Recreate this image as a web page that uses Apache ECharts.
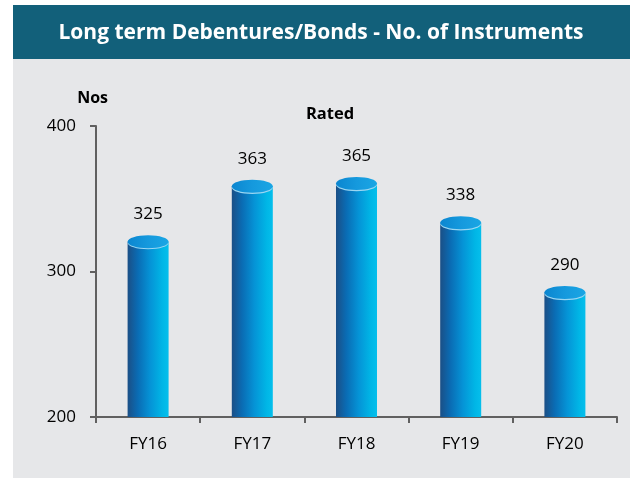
<!DOCTYPE html>
<html>
<head>
<meta charset="utf-8">
<script src="https://cdn.jsdelivr.net/npm/echarts@6/dist/echarts.min.js"></script>
<style>html,body{margin:0;padding:0;background:#fff}#c{width:630px;height:478px}</style>
</head>
<body>
<div id="c"></div>
<script>
var categories = ['FY16', 'FY17', 'FY18', 'FY19', 'FY20'];
var rated = [325, 363, 365, 338, 290];
var yTicks = [200, 300, 400];

var FONT = '"Open Sans", sans-serif';
var chart = echarts.init(document.getElementById('c'), null, {renderer: 'canvas'});

var bodyGrad = new echarts.graphic.LinearGradient(0, 0, 1, 0, [
  {offset: 0, color: '#1b4f86'},
  {offset: 0.25, color: '#0a6cb4'},
  {offset: 0.55, color: '#0593d6'},
  {offset: 0.85, color: '#00b6e6'},
  {offset: 1, color: '#05bfec'}
]);
var topGrad = new echarts.graphic.LinearGradient(0, 0, 1, 0, [
  {offset: 0, color: '#0b86d0'},
  {offset: 0.5, color: '#1599dd'},
  {offset: 1, color: '#1aa6e4'}
]);

chart.setOption({
  animation: false,
  graphic: [
    {type: 'rect', z: -10, shape: {x: 13, y: 5, width: 617, height: 54}, style: {fill: '#12607a'}},
    {type: 'rect', z: -10, shape: {x: 13, y: 59, width: 617, height: 419}, style: {fill: '#e6e7e9'}}
  ],
  title: [
    {text: 'Long term Debentures/Bonds - No. of Instruments', left: 316, top: 18, textAlign: 'center',
      textStyle: {color: '#ffffff', fontFamily: FONT, fontWeight: 'bold', fontSize: 21}},
    {text: 'Rated', left: 325, top: 101, textAlign: 'center',
      textStyle: {color: '#000000', fontFamily: FONT, fontWeight: 'bold', fontSize: 16.5}}
  ],
  grid: {left: 96, right: 13, top: 126, bottom: 61, containLabel: false},
  xAxis: {
    type: 'category', data: categories,
    axisLine: {lineStyle: {color: '#606060', width: 2}},
    axisTick: {show: true, alignWithLabel: false, length: 6, lineStyle: {color: '#606060', width: 2}},
    axisLabel: {color: '#000', fontFamily: FONT, fontSize: 17, margin: 19}
  },
  yAxis: {
    type: 'value', min: yTicks[0], max: yTicks[yTicks.length - 1], interval: 100,
    name: 'Nos', nameLocation: 'end', nameGap: 20,
    nameTextStyle: {color: '#000', fontFamily: FONT, fontWeight: 'bold', fontSize: 16, align: 'right', padding: [0, -12, 0, 0]},
    splitLine: {show: false},
    axisLine: {show: true, lineStyle: {color: '#606060', width: 2}},
    axisTick: {show: true, length: 6, lineStyle: {color: '#606060', width: 2}},
    axisLabel: {color: '#000', fontFamily: FONT, fontSize: 17, margin: 20}
  },
  series: [{
    type: 'custom',
    data: rated.map(function (v, i) { return [i, v]; }),
    encode: {x: 0, y: 1},
    renderItem: function (params, api) {
      var idx = api.value(0), v = api.value(1);
      var top = api.coord([idx, v]);
      var base = api.coord([idx, yTicks[0]]);
      var w = 41, rx = w / 2, ry = 6.5;
      var cx = top[0], cy = top[1] + ry;
      return {
        type: 'group',
        children: [
          {type: 'rect', shape: {x: cx - rx, y: cy, width: w, height: base[1] - cy}, style: {fill: bodyGrad}},
          {type: 'ellipse', shape: {cx: cx, cy: cy + 1.2, rx: rx, ry: ry}, style: {fill: '#9ad6f2'}},
          {type: 'ellipse', shape: {cx: cx, cy: cy, rx: rx, ry: ry}, style: {fill: topGrad}},
          {type: 'text', style: {text: String(v), x: cx, y: top[1] - 21, align: 'center', verticalAlign: 'middle',
            fill: '#000', font: '17px ' + FONT}}
        ]
      };
    }
  }]
});
</script>
</body>
</html>
